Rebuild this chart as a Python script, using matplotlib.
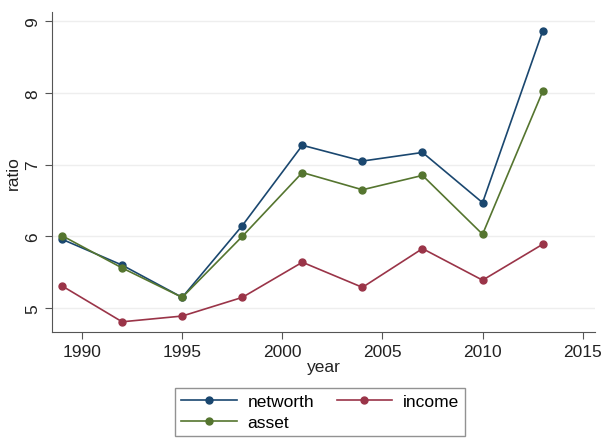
import matplotlib.pyplot as plt
from matplotlib.lines import Line2D

plt.rcParams['font.family'] = ['Liberation Sans', 'DejaVu Sans']

# ── data ──
years = [1989, 1992, 1995, 1998, 2001, 2004, 2007, 2010, 2013]
networth = [5.96, 5.60, 5.15, 6.15, 7.27, 7.05, 7.17, 6.47, 8.86]
income = [5.31, 4.81, 4.89, 5.15, 5.64, 5.29, 5.83, 5.39, 5.89]
asset = [6.01, 5.56, 5.15, 6.00, 6.89, 6.65, 6.85, 6.03, 8.02]

x_ticks = [1990, 1995, 2000, 2005, 2010, 2015]
y_ticks = [5, 6, 7, 8, 9]

C_NET = "#1a476f"
C_INC = "#9a3448"
C_AST = "#55752f"

fig = plt.figure(figsize=(6.05, 4.39), dpi=100, facecolor="white")
ax = fig.add_axes([0.086, 0.241, 0.897, 0.729])

ax.plot(years, networth, color=C_NET, lw=1.2, marker="o", ms=5, label="networth", zorder=3)
ax.plot(years, income, color=C_INC, lw=1.2, marker="o", ms=5, label="income", zorder=3)
ax.plot(years, asset, color=C_AST, lw=1.2, marker="o", ms=5, label="asset", zorder=4)

ax.set_xlim(1988.5, 2015.6)
ax.set_ylim(4.665, 9.125)
ax.set_xticks(x_ticks)
ax.set_yticks(y_ticks)
ax.set_yticklabels([str(v) for v in y_ticks], rotation=90, va="center")
ax.tick_params(axis="both", labelsize=12.5, color="#555555", length=5, width=0.8, labelcolor="#222222")
ax.grid(axis="y", color="#eeeeee", lw=1.0, zorder=0)
ax.spines["top"].set_visible(False)
ax.spines["right"].set_visible(False)
ax.spines["left"].set_color("#555555")
ax.spines["bottom"].set_color("#555555")
ax.set_xlabel("year", fontsize=12.5, labelpad=0, color="#222222")
ax.set_ylabel("ratio", fontsize=12.5, labelpad=3, color="#222222")

handles = [
    Line2D([], [], color=C_NET, lw=1.2, marker="o", ms=5),
    Line2D([], [], color=C_AST, lw=1.2, marker="o", ms=5),
    Line2D([], [], color=C_INC, lw=1.2, marker="o", ms=5),
]
leg = fig.legend(handles, ["networth", "asset", "income"], ncol=2,
                 loc="lower center", bbox_to_anchor=(0.529, 0.004),
                 borderaxespad=0, fontsize=12.5, frameon=True, fancybox=False,
                 handlelength=3.2, columnspacing=1.3, handletextpad=0.6,
                 borderpad=0.35, labelspacing=0.35)
leg.get_frame().set_edgecolor("#777777")
leg.get_frame().set_linewidth(1.0)

fig.savefig("out.png", dpi=100, facecolor="white")
